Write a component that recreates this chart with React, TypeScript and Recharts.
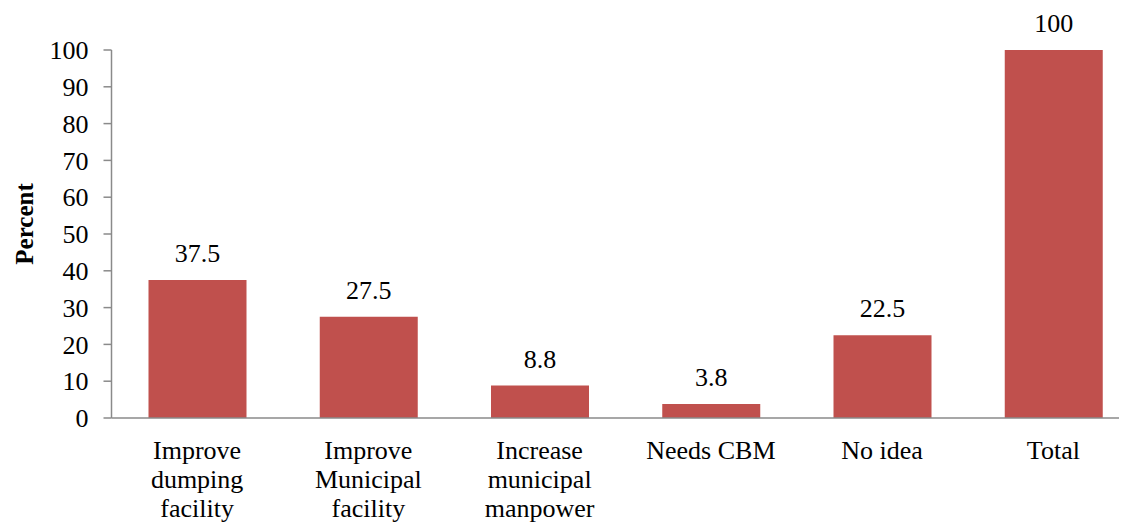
import React from 'react';
import { BarChart, Bar, XAxis, YAxis, LabelList, Label } from 'recharts';

const categories = [
  'Improve dumping facility',
  'Improve Municipal facility',
  'Increase municipal manpower',
  'Needs CBM',
  'No idea',
  'Total',
];
const percentValues = [37.5, 27.5, 8.8, 3.8, 22.5, 100];
const yTicks = [0, 10, 20, 30, 40, 50, 60, 70, 80, 90, 100];

const data = categories.map((c, i) => ({ name: c, value: percentValues[i] }));

const FONT = '"Liberation Serif", "Times New Roman", serif';
const FS = 26;

function wrap(label: string): string[] {
  const words = label.split(' ');
  const lines: string[] = [];
  let cur = '';
  for (const w of words) {
    const cand = cur ? cur + ' ' + w : w;
    if (cand.length <= 9 || !cur) cur = cand;
    else {
      lines.push(cur);
      cur = w;
    }
  }
  if (cur) lines.push(cur);
  return lines;
}

const XTick = (props: any) => {
  const { x, y, payload } = props;
  const lines = wrap(String(payload.value));
  return (
    <text x={x} y={y} textAnchor="middle" fill="#000" fontSize={FS} fontFamily={FONT}>
      {lines.map((l, i) => (
        <tspan key={i} x={x} dy={i === 0 ? 41 : 29}>
          {l}
        </tspan>
      ))}
    </text>
  );
};

const YLabel = (props: any) => {
  const vb = props.viewBox || { x: 0, y: 0, width: 0, height: 0 };
  const cx = 25;
  const cy = vb.y + vb.height / 2 - 10;
  return (
    <text
      x={cx}
      y={cy}
      transform={`rotate(-90, ${cx}, ${cy})`}
      textAnchor="middle"
      fontSize={25}
      fontWeight="bold"
      fontFamily={FONT}
      fill="#000"
    >
      Percent
    </text>
  );
};

export default function App() {
  return (
    <div style={{ width: 1119, height: 515, overflow: 'hidden' }}>
      <BarChart
        width={1150}
        height={515}
        data={data}
        margin={{ top: 42, right: 19, left: 0, bottom: 0 }}
      >
        <XAxis
          dataKey="name"
          tickLine={false}
          tickSize={0}
          tickMargin={0}
          height={105}
          interval={0}
          axisLine={{ stroke: '#8a8a8a', strokeWidth: 1.5 }}
          tick={<XTick />}
        />
        <YAxis
          width={103.5}
          domain={[0, 100]}
          ticks={yTicks}
          interval={0}
          tickSize={8}
          tickMargin={15}
          axisLine={{ stroke: '#8a8a8a', strokeWidth: 1.5 }}
          tickLine={{ stroke: '#8a8a8a', strokeWidth: 1.5 }}
          tick={{ fill: '#000', fontSize: FS, fontFamily: FONT }}
        >
          <Label content={<YLabel />} />
        </YAxis>
        <Bar dataKey="value" fill="#C0504D" barSize={98} isAnimationActive={false}>
          <LabelList
            dataKey="value"
            position="top"
            offset={18}
            fill="#000"
            fontSize={FS}
            fontFamily={FONT}
          />
        </Bar>
      </BarChart>
    </div>
  );
}
